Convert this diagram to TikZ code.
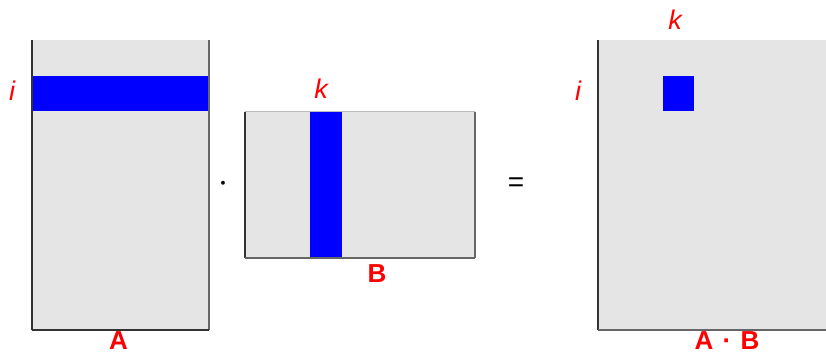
\documentclass[tikz,border=0pt]{standalone}
\usepackage{fontspec}
\setmainfont{Liberation Sans}
\definecolor{matgray}{HTML}{E5E5E5}
\definecolor{edgedark}{HTML}{333333}
\definecolor{edgemid}{HTML}{666666}
\definecolor{edgelight}{HTML}{BBBBBB}
\begin{document}
\begin{tikzpicture}[x=1pt,y=-1pt,
  matbox/.style={fill=matgray,draw=none,inner sep=0pt,outer sep=0pt,rectangle},
  selbox/.style={fill=blue,draw=none,inner sep=0pt,outer sep=0pt,rectangle},
  idxlabel/.style={text=red,font=\fontsize{27}{27}\selectfont\itshape,inner sep=0pt},
  matlabel/.style={text=red,font=\fontsize{26}{26}\selectfont\bfseries,inner sep=0pt},
  oplabel/.style={font=\fontsize{28}{28}\selectfont,inner sep=0pt},
  edgedk/.style={draw=edgedark,line width=1.5pt},
  edgemd/.style={draw=edgemid,line width=1.5pt},
  edgelt/.style={draw=edgelight,line width=1pt}]
\useasboundingbox (0,0) rectangle (826,355);
% matrix A
\node[matbox,minimum width=177pt,minimum height=290pt] (A) at (120.5,185) {};
\node[selbox,minimum width=177pt,minimum height=35pt] (Arow) at (120.5,93.5) {};
\draw[edgedk] (A.north west) -- (A.south west);
\draw[edgemd] (A.north east) -- (A.south east);
\draw[edgedk] (A.south west) -- (A.south east);
% matrix B
\node[matbox,minimum width=230pt,minimum height=146pt] (B) at (360,185) {};
\node[selbox,minimum width=32pt,minimum height=146pt] (Bcol) at (326,185) {};
\draw[edgelt] (B.north west) -- (B.north east);
\draw[edgedk] (B.north west) -- (B.south west);
\draw[edgemd] (B.north east) -- (B.south east);
\draw[edgemd] (B.south west) -- (B.south east);
% result matrix
\node[matbox,minimum width=240pt,minimum height=290pt] (C) at (718,185) {};
\node[selbox,minimum width=31pt,minimum height=35pt] (Cel) at (678.5,93.5) {};
\draw[edgedk] (C.north west) -- (C.south west);
\draw[edgemd] (C.south west) -- (C.south east);
% labels
\node[idxlabel] (iA) at (12,91) {i};
\node[idxlabel] (kB) at (321,89) {k};
\node[idxlabel] (kC) at (675,20) {k};
\node[idxlabel] (iC) at (578,91) {i};
\node[matlabel] (nA) at (118.5,341) {A};
\node[matlabel] (nB) at (377,273.5) {B};
\node[matlabel] (nC) at (727,341) {A\hspace{2pt} · \hspace{2pt}B};
% operators
\node[oplabel,font=\fontsize{34}{34}\selectfont\boldmath] (dot) at (223,184) {$\cdot$};
\node[oplabel] (eq) at (516,185) {=};
\end{tikzpicture}
\end{document}
